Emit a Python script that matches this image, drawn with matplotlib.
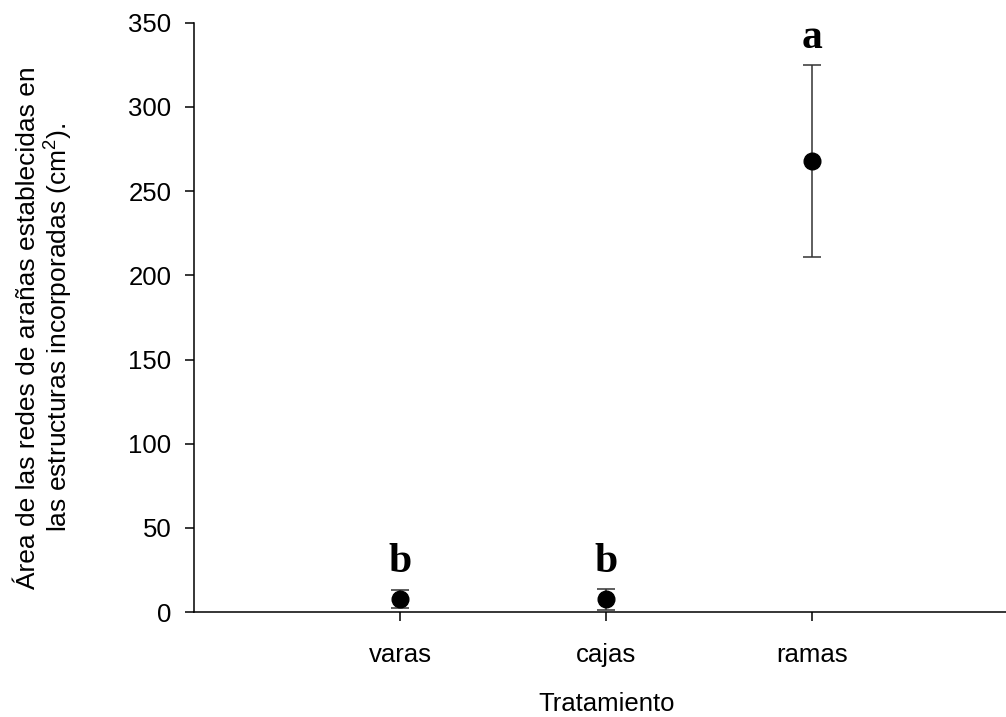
import matplotlib
matplotlib.use("Agg")
import matplotlib.pyplot as plt

# data
tratamientos = ["varas", "cajas", "ramas"]
medias = [7.7, 7.5, 268]
err_inf = [5.3, 6.5, 57]
err_sup = [5.3, 6.0, 57]
letras = ["b", "b", "a"]
letra_y = [24, 24, 335]

plt.rcParams["font.family"] = ["Liberation Sans", "DejaVu Sans"]
plt.rcParams["mathtext.fontset"] = "custom"
plt.rcParams["mathtext.rm"] = "Liberation Sans"

fig = plt.figure(figsize=(10.06, 7.17), dpi=100)
ax = fig.add_axes([0.1933, 0.1464, 0.8067, 0.8218])

x = list(range(1, len(tratamientos) + 1))
ax.errorbar(x, medias, yerr=[err_inf, err_sup], fmt="o", color="black",
            ecolor="#333333", elinewidth=1.1, capsize=6.5, capthick=1.1,
            markersize=12)

for xi, l, ly in zip(x, letras, letra_y):
    ax.text(xi, ly, l, ha="center", va="baseline", fontsize=30,
            fontweight="bold", family=["Liberation Serif", "DejaVu Serif"])

ax.set_xlim(0, 3.94)
ax.set_ylim(0, 350)
ax.set_xticks(x)
ax.set_xticklabels(tratamientos)
ax.set_yticks(range(0, 351, 50))

ax.spines["top"].set_visible(False)
ax.spines["right"].set_visible(False)
for s in ["left", "bottom"]:
    ax.spines[s].set_linewidth(1.1)
ax.tick_params(direction="out", length=6.5, width=1.1, labelsize=18.5)
ax.tick_params(axis="y", pad=10)
ax.tick_params(axis="x", pad=16)

ax.set_xlabel("Tratamiento", fontsize=18.5)
ax.xaxis.set_label_coords(0.508, -0.136)
ax.set_ylabel("Área de las redes de arañas establecidas en\n"
              "las estructuras incorporadas (cm$^2$).",
              fontsize=19, linespacing=1.05)
ax.yaxis.set_label_coords(-0.148, 0.483)

fig.savefig("out.png", dpi=100)
